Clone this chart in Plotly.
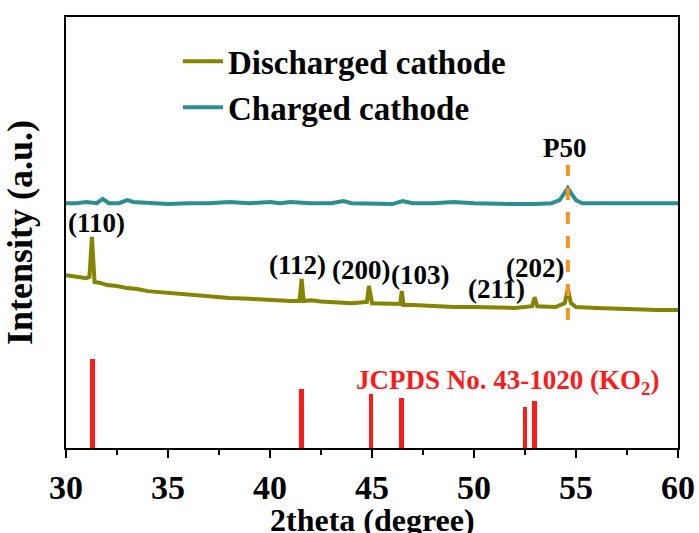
import plotly.graph_objects as go

# 2theta axis (degree)
two_theta_discharged = [30.0, 30.5, 31.0, 31.15, 31.27, 31.4, 31.7, 32.0, 32.5, 33.0, 33.5, 34.0,
                        35.0, 36.0, 37.0, 38.0, 39.0, 40.0, 41.0, 41.45, 41.55, 41.65, 42.0,
                        42.5, 43.0, 44.0, 44.75, 44.85, 45.0, 45.5, 46.0, 46.38, 46.46, 46.55,
                        47.0, 48.0, 49.0, 50.0, 51.0, 52.0, 52.85, 52.97, 53.1, 54.0, 54.45,
                        54.6, 54.75, 55.0, 56.0, 57.0, 58.0, 59.0, 60.0]
intensity_discharged = [40.1, 39.7, 39.4, 39.7, 49.0, 38.5, 38.3, 37.8, 37.6, 37.1, 36.9, 36.4,
                        36.0, 35.5, 35.0, 34.8, 34.6, 34.3, 34.1, 34.1, 39.2, 34.1, 34.3,
                        34.0, 33.9, 33.6, 33.9, 37.6, 33.6, 33.5, 33.4, 33.4, 36.4, 33.2,
                        33.2, 32.9, 32.7, 32.7, 32.5, 32.5, 32.9, 35.0, 32.9, 32.7, 33.6,
                        36.9, 33.6, 32.7, 32.5, 32.3, 32.3, 32.0, 32.0]

two_theta_charged = [30.0, 30.5, 31.0, 31.5, 31.8, 32.1, 32.6, 33.0, 33.3, 34.0, 35.0, 36.0,
                     37.0, 38.0, 39.0, 40.0, 40.5, 41.0, 42.0, 43.0, 43.6, 44.0, 45.0, 46.0,
                     46.5, 47.0, 48.0, 49.0, 50.0, 51.0, 52.0, 53.0, 53.8, 54.2, 54.45, 54.6,
                     54.75, 55.0, 55.3, 56.0, 57.0, 58.0, 59.0, 60.0]
intensity_charged = [56.8, 56.8, 57.1, 56.8, 57.8, 56.8, 56.8, 57.5, 57.1, 56.8, 56.6, 56.8,
                     56.8, 57.1, 56.8, 57.1, 56.8, 57.1, 56.8, 56.8, 57.3, 56.8, 56.8, 56.6,
                     57.3, 56.8, 56.8, 57.1, 56.8, 56.6, 56.6, 56.6, 56.8, 57.5, 59.2, 60.3,
                     59.2, 57.5, 56.8, 56.8, 56.8, 56.8, 56.6, 56.8]

# JCPDS No. 43-1020 (KO2) reference reflections
ref_positions = [31.3, 41.55, 44.95, 46.45, 52.5, 52.95]
ref_heights = [20.6, 13.7, 12.5, 11.6, 9.5, 10.9]

# Miller index labels
hkl_labels = ["(110)", "(112)", "(200)", "(103)", "(211)", "(202)"]
hkl_x = [31.5, 41.34, 44.48, 47.33, 51.09, 52.99]
hkl_y = [52.2, 42.5, 41.3, 40.1, 36.9, 41.8]

p50_position = 54.6
p50_span = [29.7, 65.7]

x_ticks = [30, 35, 40, 45, 50, 55, 60]

FONT = "Times New Roman, Liberation Serif, serif"
OLIVE = "#848400"
TEAL = "#2B8F8F"
RED = "#FF1A1A"
ORANGE = "#F7931E"

fig = go.Figure()

fig.add_trace(go.Bar(
    x=ref_positions, y=ref_heights, width=0.24,
    marker=dict(color=RED, line=dict(width=0)),
    showlegend=False, hoverinfo="x",
))

fig.add_trace(go.Scatter(
    x=two_theta_discharged, y=intensity_discharged, mode="lines",
    name="Discharged cathode", line=dict(color=OLIVE, width=4),
))
fig.add_trace(go.Scatter(
    x=two_theta_charged, y=intensity_charged, mode="lines",
    name="Charged cathode", line=dict(color=TEAL, width=4),
))

fig.add_trace(go.Scatter(
    x=[p50_position, p50_position], y=p50_span, mode="lines",
    line=dict(color=ORANGE, width=4, dash="dash"),
    showlegend=False, hoverinfo="skip",
))

for label, lx, ly in zip(hkl_labels, hkl_x, hkl_y):
    fig.add_annotation(x=lx, y=ly, text=label, showarrow=False,
                       font=dict(family=FONT, size=27, color="black", weight="bold"))

fig.add_annotation(x=54.47, y=69.6, text="P50", showarrow=False,
                   font=dict(family=FONT, size=27, color="black", weight="bold"))
fig.add_annotation(x=51.63, y=15.3, text="JCPDS No. 43-1020 (KO<sub>2</sub>)", showarrow=False,
                   font=dict(family=FONT, size=27, color=RED, weight="bold"))

# x-axis title, placed below the tick labels
fig.add_annotation(xref="paper", yref="paper", x=0.5, y=-0.166, yanchor="middle",
                   text="2theta (degree)", showarrow=False,
                   font=dict(family=FONT, size=32, color="black", weight="bold"))

fig.update_layout(
    width=699, height=533,
    margin=dict(l=66, r=21, t=17, b=85),
    paper_bgcolor="white", plot_bgcolor="white",
    bargap=0,
    legend=dict(
        x=0.183, y=0.962, xanchor="left", yanchor="top",
        bgcolor="rgba(0,0,0,0)", borderwidth=0,
        font=dict(family=FONT, size=33, color="black", weight="bold"),
        tracegroupgap=0, itemwidth=40,
    ),
)

fig.update_xaxes(
    range=[30, 60], tickvals=x_ticks, ticktext=[str(v) for v in x_ticks],
    automargin=False,
    showline=True, linewidth=2, linecolor="black", mirror=True,
    ticks="outside", ticklen=8, tickwidth=2, tickcolor="black",
    minor=dict(dtick=2.5, tick0=30, ticks="outside", ticklen=5, tickwidth=2, tickcolor="black"),
    showgrid=False, zeroline=False,
    tickfont=dict(family=FONT, size=34, color="black", weight="bold"),
)
fig.update_yaxes(
    range=[0, 100], showticklabels=False, ticks="",
    automargin=False,
    showline=True, linewidth=2, linecolor="black", mirror=True,
    showgrid=False, zeroline=False,
    title=dict(text="Intensity (a.u.)", standoff=20,
               font=dict(family=FONT, size=36, color="black", weight="bold")),
)

fig.write_html("out.html")
